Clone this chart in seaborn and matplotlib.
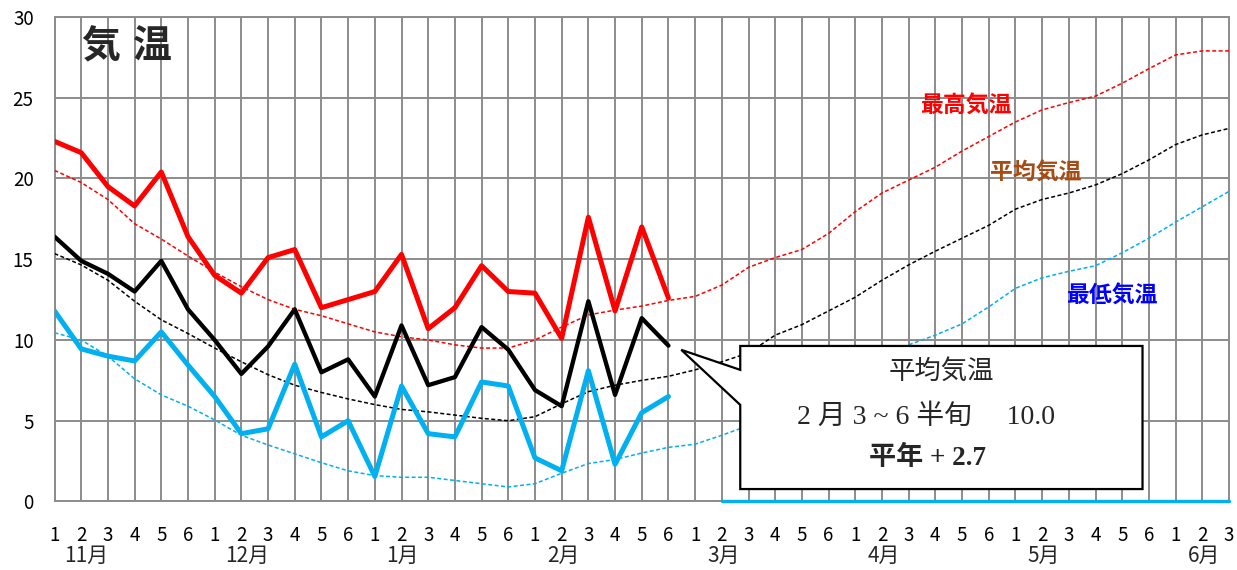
import matplotlib
matplotlib.use("Agg")
import matplotlib.pyplot as plt
from matplotlib.patches import Polygon
from matplotlib.transforms import blended_transform_factory
import pandas as pd
import seaborn as sns

# ---- data -------------------------------------------------------------
months = ["11月", "12月", "1月", "2月", "3月", "4月", "5月", "6月"]
pentad_labels = ["1", "2", "3", "4", "5", "6"] * 7 + ["1", "2", "3"]

# observed pentad values (11月1半旬 .. 2月6半旬)
obs_max = [22.3, 21.6, 19.5, 18.3, 20.4, 16.4, 14.0, 12.9, 15.1, 15.6, 12.0, 12.5,
           13.0, 15.3, 10.7, 12.0, 14.6, 13.0, 12.9, 10.1, 17.6, 11.8, 17.0, 12.6]
obs_mean = [16.4, 14.9, 14.1, 13.0, 14.9, 11.9, 10.0, 7.9, 9.6, 11.9, 8.0, 8.8,
            6.5, 10.9, 7.2, 7.7, 10.8, 9.4, 6.9, 5.9, 12.4, 6.6, 11.35, 9.65]
obs_min = [11.8, 9.45, 9.0, 8.7, 10.5, 8.45, 6.5, 4.2, 4.5, 8.5, 4.0, 5.0,
           1.55, 7.15, 4.2, 4.0, 7.4, 7.15, 2.7, 1.9, 8.1, 2.3, 5.5, 6.5]

# climatological normals (11月1半旬 .. 6月3半旬)
normal_max = [20.5, 19.75, 18.7, 17.2, 16.25, 15.2, 14.2, 13.3, 12.5, 11.9, 11.5, 11.0,
              10.5, 10.2, 10.0, 9.7, 9.5, 9.5, 10.0, 10.8, 11.55, 11.85, 12.1, 12.45,
              12.7, 13.4, 14.5, 15.1, 15.6, 16.6, 17.95, 19.1, 19.9, 20.7, 21.7, 22.6,
              23.5, 24.25, 24.7, 25.1, 25.9, 26.8, 27.65, 27.9, 27.9]
normal_mean = [15.35, 14.65, 13.7, 12.4, 11.25, 10.4, 9.5, 8.65, 7.85, 7.2, 6.75, 6.35,
               6.0, 5.7, 5.55, 5.35, 5.15, 5.0, 5.25, 6.05, 6.8, 7.2, 7.5, 7.75,
               8.15, 8.65, 9.2, 10.3, 10.95, 11.8, 12.65, 13.7, 14.65, 15.5, 16.3, 17.1,
               18.1, 18.7, 19.1, 19.6, 20.3, 21.15, 22.1, 22.7, 23.1]
normal_min = [10.45, 10.0, 9.0, 7.6, 6.6, 5.9, 5.05, 4.1, 3.5, 2.95, 2.4, 1.9,
              1.6, 1.5, 1.5, 1.3, 1.1, 0.9, 1.1, 1.75, 2.35, 2.6, 3.0, 3.35,
              3.55, 4.1, 4.7, 5.4, 6.1, 6.9, 7.8, 8.7, 9.7, 10.3, 11.0, 12.05,
              13.2, 13.85, 14.25, 14.6, 15.4, 16.3, 17.3, 18.25, 19.2]

# minimum series slots not yet observed (3月2半旬 .. 6月3半旬)
pending_min = [0.0, 0.0, 0.0, 0.0, 0.0, 0.0, 0.0, 0.0, 0.0, 0.0,
               0.0, 0.0, 0.0, 0.0, 0.0, 0.0, 0.0, 0.0, 0.0, 0.0]

period_mean = 10.0
period_anomaly = 2.7

# ---- frames -----------------------------------------------------------
n_all = len(normal_max)
n_obs = len(obs_max)
obs = pd.DataFrame({"pentad": range(n_obs), "max": obs_max,
                    "mean": obs_mean, "min": obs_min})
nrm = pd.DataFrame({"pentad": range(n_all), "max": normal_max,
                    "mean": normal_mean, "min": normal_min})
pend = pd.DataFrame({"pentad": range(n_all - len(pending_min), n_all),
                     "min": pending_min})

# ---- style ------------------------------------------------------------
sns.set_style("white")
plt.rcParams["font.family"] = ["Noto Sans CJK JP", "DejaVu Sans"]

RED = "#FF0000"
BLUE = "#00B0F0"
GRID = "#8C8C8C"

fig = plt.figure(figsize=(12.37, 5.70), dpi=100)
ax = fig.add_axes([0.04406, 0.1202, 0.94947, 0.85])

dash = (0, (2.6, 1.6))
sns.lineplot(data=nrm, x="pentad", y="max", ax=ax, color=RED, lw=1.1,
             linestyle=dash, sort=False, estimator=None, zorder=3)
sns.lineplot(data=nrm, x="pentad", y="mean", ax=ax, color="black", lw=1.1,
             linestyle=dash, sort=False, estimator=None, zorder=3)
sns.lineplot(data=nrm, x="pentad", y="min", ax=ax, color=BLUE, lw=1.1,
             linestyle=dash, sort=False, estimator=None, zorder=3)

sns.lineplot(data=obs, x="pentad", y="max", ax=ax, color=RED, lw=3.6,
             sort=False, estimator=None, zorder=4)
sns.lineplot(data=obs, x="pentad", y="mean", ax=ax, color="black", lw=3.1,
             sort=False, estimator=None, zorder=5)
sns.lineplot(data=obs, x="pentad", y="min", ax=ax, color=BLUE, lw=3.6,
             sort=False, estimator=None, zorder=4)
sns.lineplot(data=pend, x="pentad", y="min", ax=ax, color=BLUE, lw=2.4,
             sort=False, estimator=None, zorder=6, clip_on=False)

# ---- axes -------------------------------------------------------------
ax.set_xlim(0, n_all - 1)
ax.set_ylim(0, 30)
ax.set_xticks(range(n_all))
ax.set_xticklabels(pentad_labels)
ax.set_yticks(range(0, 31, 5))
ax.set_xlabel("")
ax.set_ylabel("")
ax.set_axisbelow(True)
ax.grid(True, color=GRID, lw=1.4)
for sp in ax.spines.values():
    sp.set_visible(True)
    sp.set_color(GRID)
    sp.set_linewidth(1.4)
ax.tick_params(axis="x", length=0, pad=17, labelsize=13.5, labelcolor="black")
ax.tick_params(axis="y", length=0, pad=15, labelsize=13.5, labelcolor="black")

# month names under the pentad numbers
trans = blended_transform_factory(ax.transData, ax.transAxes)
for i, m in enumerate(months):
    shift = 0.2 if len(m) > 2 else 0.05
    ax.text(i * 6 + 1 + shift, -0.112, m, transform=trans, ha="center",
            va="center", fontsize=15)

# ---- titles and series names -----------------------------------------
for cx, ch in ((1.72, "気"), (3.67, "温")):
    ax.text(cx, 28.13, ch, ha="center", va="center", fontsize=28,
            fontweight="bold", zorder=8)
ax.text(34.14, 24.46, "最高気温", ha="center", va="center", fontsize=16.5,
        fontweight="bold", color=RED, zorder=8)
ax.text(36.75, 20.33, "平均気温", ha="center", va="center", fontsize=16.5,
        fontweight="bold", color="#A64C12", zorder=8)
ax.text(39.61, 12.69, "最低気温", ha="center", va="center", fontsize=16.5,
        fontweight="bold", color="#0000FF", zorder=8)

# ---- callout box ------------------------------------------------------
bx0, bx1, by0, by1 = 25.69, 40.76, 0.77, 9.63
callout = Polygon([(bx0, by1), (bx1, by1), (bx1, by0), (bx0, by0),
                   (bx0, 5.98), (23.48, 9.39), (bx0, 8.15)],
                  closed=True, facecolor="white", edgecolor="black",
                  lw=1.6, joinstyle="miter", zorder=9)
ax.add_patch(callout)

ax.text(33.22, 8.04, "平均気温", ha="center", va="center", fontsize=19,
        zorder=10)
ax.text(32.66, 5.25, f"2 月 3 ~ 6 半旬　 {period_mean:.1f}", ha="center",
        va="center", fontsize=20, family=["Liberation Serif", "Noto Sans CJK JP"],
        zorder=10)
ax.text(32.7, 2.68, f"平年 + {period_anomaly:.1f}", ha="center", va="center",
        fontsize=19.5, fontweight="bold",
        family=["Liberation Serif", "Noto Sans CJK JP"], zorder=10)

fig.savefig("out.png", dpi=100)
